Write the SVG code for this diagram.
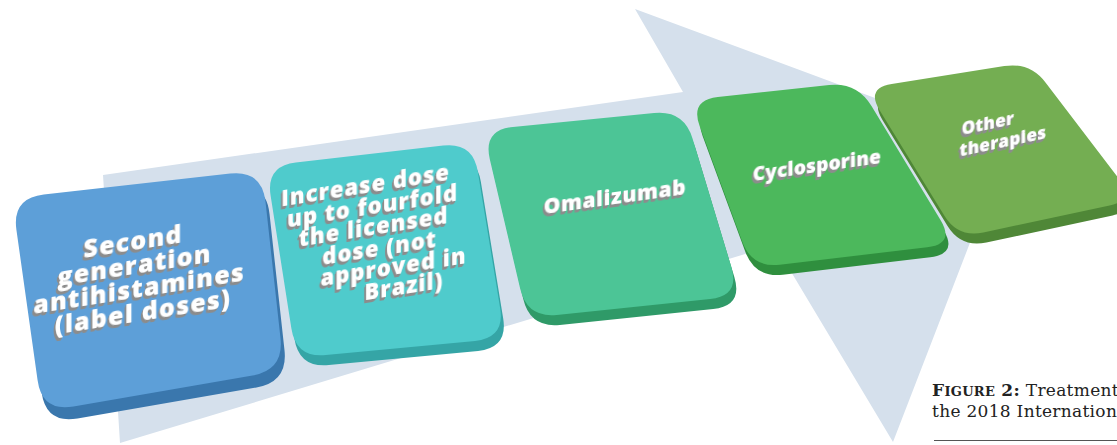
<svg xmlns="http://www.w3.org/2000/svg" width="1117" height="445" viewBox="0 0 1117 445">
<style>
.lbl{font-family:"Open Sans","DejaVu Sans",sans-serif;font-weight:800;fill:#ffffff;text-anchor:middle;filter:url(#ext)}
.cap{font-family:"DejaVu Serif","Liberation Serif",serif;fill:#222;font-size:17px;letter-spacing:0.3px}
</style>
<defs>
<filter id="ext" x="-10%" y="-20%" width="120%" height="150%">
<feFlood flood-color="#8c8c8c" result="f"/>
<feComposite in="f" in2="SourceAlpha" operator="in" result="g"/>
<feOffset in="g" dx="-0.5" dy="1.2" result="o1"/>
<feOffset in="g" dx="-1" dy="2.4" result="o2"/>
<feOffset in="g" dx="-1.5" dy="3.4" result="o3"/>
<feMerge><feMergeNode in="o3"/><feMergeNode in="o2"/><feMergeNode in="o1"/><feMergeNode in="SourceGraphic"/></feMerge>
</filter>
</defs>
<rect width="1117" height="445" fill="#ffffff"/>
<g id="arrow">
<polygon points="103,175 683,92 635,9 1007,147 893,442 775,245 120,443" fill="#d5e0ec"/>
</g>
<g id="node5">
<path transform="translate(3,10)" fill="#4f8737" d="M891.7,83.9 L1004.3,66.1 Q1030,62 1045.7,82.7 L1119.3,179.3 Q1135,200 1109.6,205.5 L983.4,232.5 Q958,238 944.4,215.8 L879.6,110.2 Q866,88 891.7,83.9Z"/>
<path fill="#74ae52" d="M891.7,83.9 L1004.3,66.1 Q1030,62 1045.7,82.7 L1119.3,179.3 Q1135,200 1109.6,205.5 L983.4,232.5 Q958,238 944.4,215.8 L879.6,110.2 Q866,88 891.7,83.9Z"/>
<g transform="translate(995,135) skewY(-12)">
<text class="lbl" style="font-size:17px;letter-spacing:0.3px" x="-7" y="-7">Other</text>
<text class="lbl" style="font-size:17px;letter-spacing:0.3px" x="8" y="14">therapies</text>
</g>
</g>
<g id="node4">
<path transform="translate(3,10)" fill="#2f8f3e" d="M717.8,97 L829.2,85 Q857,82 871.5,106 L940.5,220 Q955,244 927.2,247.3 L779.8,264.7 Q752,268 742.3,241.7 L699.7,126.3 Q690,100 717.8,97Z"/>
<path fill="#4cb85c" d="M717.8,97 L829.2,85 Q857,82 871.5,106 L940.5,220 Q955,244 927.2,247.3 L779.8,264.7 Q752,268 742.3,241.7 L699.7,126.3 Q690,100 717.8,97Z"/>
<g transform="translate(817,165) skewY(-8)">
<text class="lbl" style="font-size:19px;letter-spacing:0.2px" x="0" y="6.5">Cyclosporine</text>
</g>
</g>
<g id="node3">
<path transform="translate(3,10)" fill="#2f9a68" d="M512.9,127 L654.1,113 Q684,110 692.6,138.7 L731.4,267.3 Q740,296 710.2,299.1 L556.8,314.9 Q527,318 520.2,288.8 L489.8,159.2 Q483,130 512.9,127Z"/>
<path fill="#4cc596" d="M512.9,127 L654.1,113 Q684,110 692.6,138.7 L731.4,267.3 Q740,296 710.2,299.1 L556.8,314.9 Q527,318 520.2,288.8 L489.8,159.2 Q483,130 512.9,127Z"/>
<g transform="translate(615,197) skewY(-8)">
<text class="lbl" style="font-size:21px;letter-spacing:0.6px" x="0" y="7">Omalizumab</text>
</g>
</g>
<g id="node2">
<path transform="translate(3,10)" fill="#35a5a6" d="M295.8,162.5 L443.2,145.5 Q473,142 477.8,171.6 L500.2,308.4 Q505,338 475.1,340.9 L325.9,355.1 Q296,358 291.4,328.4 L270.6,195.6 Q266,166 295.8,162.5Z"/>
<path fill="#4fcbcc" d="M295.8,162.5 L443.2,145.5 Q473,142 477.8,171.6 L500.2,308.4 Q505,338 475.1,340.9 L325.9,355.1 Q296,358 291.4,328.4 L270.6,195.6 Q266,166 295.8,162.5Z"/>
<g transform="translate(385,245) skewY(-9)">
<text class="lbl" style="font-size:22px;letter-spacing:1px">
<tspan x="-16" y="-55">Increase dose</tspan>
<tspan x="-9" y="-33.5">up to fourfold</tspan>
<tspan x="-8" y="-12">the licensed</tspan>
<tspan x="-2" y="9.5">dose (not</tspan>
<tspan x="12" y="31">approved in</tspan>
<tspan x="19" y="52.5">Brazil)</tspan>
</text>
</g>
</g>
<g id="node1">
<path transform="translate(4,12)" fill="#3a77ad" d="M43.8,194.4 L230.2,173.6 Q262,170 265.5,201.8 L280.5,338.2 Q284,370 252.5,375.5 L73.5,406.5 Q42,412 37.6,380.3 L16.4,229.7 Q12,198 43.8,194.4Z"/>
<path fill="#5d9fd8" d="M43.8,194.4 L230.2,173.6 Q262,170 265.5,201.8 L280.5,338.2 Q284,370 252.5,375.5 L73.5,406.5 Q42,412 37.6,380.3 L16.4,229.7 Q12,198 43.8,194.4Z"/>
<g transform="translate(140,287) skewY(-9)">
<text class="lbl" style="font-size:25px;letter-spacing:1.2px">
<tspan x="-3" y="-38">Second</tspan>
<tspan x="-1.5" y="-14">generation</tspan>
<tspan x="3" y="10">antihistamines</tspan>
<tspan x="3" y="34">(label doses)</tspan>
</text>
</g>
</g>
<g id="caption">
<text class="cap" x="932" y="396"><tspan font-weight="bold">F</tspan><tspan font-weight="bold" font-size="13px">IGURE</tspan><tspan font-weight="bold"> 2:</tspan> Treatment</text>
<text class="cap" x="932" y="417">the 2018 Internation</text>
<line x1="934" y1="440.5" x2="1117" y2="440.5" stroke="#555555" stroke-width="1"/>
</g>
</svg>
